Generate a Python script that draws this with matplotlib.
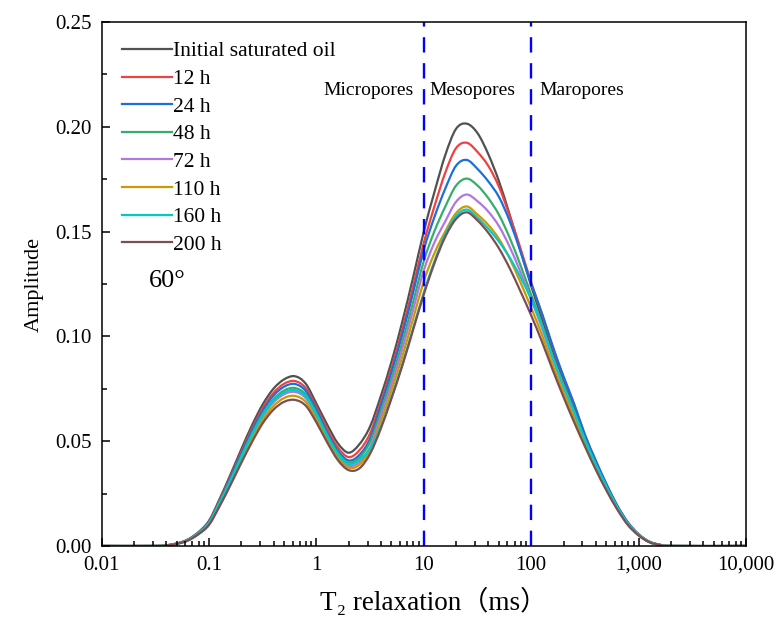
import matplotlib
matplotlib.use('Agg')
import matplotlib.pyplot as plt
import numpy as np
from matplotlib.path import Path
from matplotlib.patches import PathPatch
from matplotlib.ticker import LogLocator, NullFormatter, MultipleLocator

# T2 grid, log10 of ms, read every 0.1 decade from 0.0316 ms to 2000 ms
log_t2 = np.round(np.arange(-1.5, 3.31, 0.1), 1)

sat_oil = [0.0, 0.0003, 0.0012, 0.0030, 0.0065, 0.0120, 0.0225, 0.0340, 0.0460, 0.0575,
           0.0675, 0.0750, 0.0795, 0.0810, 0.0775, 0.0680, 0.0580, 0.0490, 0.0445, 0.0485,
           0.0570, 0.0715, 0.0880, 0.1070, 0.1280, 0.1500, 0.1690, 0.1865, 0.1990, 0.2015,
           0.1970, 0.1870, 0.1740, 0.1580, 0.1410, 0.1240, 0.1085, 0.0930, 0.0790, 0.0660,
           0.0520, 0.0400, 0.0290, 0.0190, 0.0110, 0.0055, 0.0020, 0.0005, 0.0]
h12 = [0.0, 0.0003, 0.0012, 0.0029, 0.0063, 0.0116, 0.0218, 0.0330, 0.0447, 0.0559,
       0.0657, 0.0730, 0.0774, 0.0787, 0.0754, 0.0662, 0.0559, 0.0470, 0.0424, 0.0456,
       0.0537, 0.0687, 0.0848, 0.1032, 0.1235, 0.1446, 0.1622, 0.1781, 0.1898, 0.1924,
       0.1880, 0.1814, 0.1714, 0.1575, 0.1420, 0.1257, 0.1107, 0.0949, 0.0806, 0.0674,
       0.0529, 0.0407, 0.0295, 0.0193, 0.0112, 0.0056, 0.0020, 0.0005, 0.0]
h24 = [0.0, 0.0003, 0.0011, 0.0028, 0.0062, 0.0113, 0.0213, 0.0324, 0.0439, 0.0549,
       0.0645, 0.0717, 0.0760, 0.0773, 0.0740, 0.0650, 0.0543, 0.0455, 0.0408, 0.0434,
       0.0513, 0.0670, 0.0829, 0.1009, 0.1207, 0.1413, 0.1571, 0.1705, 0.1814, 0.1842,
       0.1799, 0.1740, 0.1665, 0.1550, 0.1405, 0.1252, 0.1110, 0.0954, 0.0810, 0.0678,
       0.0531, 0.0409, 0.0296, 0.0194, 0.0113, 0.0056, 0.0021, 0.0006, 0.0]
h48 = [0.0, 0.0003, 0.0011, 0.0028, 0.0060, 0.0110, 0.0208, 0.0315, 0.0428, 0.0535,
       0.0630, 0.0700, 0.0742, 0.0754, 0.0723, 0.0635, 0.0532, 0.0445, 0.0399, 0.0421,
       0.0497, 0.0642, 0.0798, 0.0971, 0.1162, 0.1359, 0.1503, 0.1619, 0.1719, 0.1753,
       0.1720, 0.1660, 0.1580, 0.1470, 0.1340, 0.1198, 0.1057, 0.0906, 0.0770, 0.0642,
       0.0509, 0.0391, 0.0284, 0.0186, 0.0108, 0.0054, 0.0020, 0.0005, 0.0]
h72 = [0.0, 0.0002, 0.0011, 0.0027, 0.0058, 0.0107, 0.0202, 0.0307, 0.0417, 0.0522,
       0.0616, 0.0684, 0.0724, 0.0735, 0.0706, 0.0621, 0.0516, 0.0430, 0.0383, 0.0399,
       0.0472, 0.0619, 0.0771, 0.0940, 0.1125, 0.1314, 0.1449, 0.1549, 0.1642, 0.1677,
       0.1645, 0.1596, 0.1526, 0.1427, 0.1307, 0.1176, 0.1041, 0.0892, 0.0758, 0.0632,
       0.0502, 0.0386, 0.0280, 0.0184, 0.0106, 0.0053, 0.0019, 0.0005, 0.0]
h110 = [0.0, 0.0002, 0.0010, 0.0026, 0.0057, 0.0103, 0.0196, 0.0299, 0.0406, 0.0509,
        0.0600, 0.0667, 0.0706, 0.0716, 0.0688, 0.0605, 0.0508, 0.0422, 0.0374, 0.0387,
        0.0459, 0.0593, 0.0742, 0.0904, 0.1082, 0.1263, 0.1398, 0.1501, 0.1588, 0.1620,
        0.1581, 0.1532, 0.1465, 0.1371, 0.1258, 0.1136, 0.1008, 0.0863, 0.0734, 0.0611,
        0.0488, 0.0375, 0.0272, 0.0179, 0.0103, 0.0052, 0.0019, 0.0005, 0.0]
h160 = [0.0, 0.0002, 0.0011, 0.0027, 0.0059, 0.0108, 0.0205, 0.0311, 0.0422, 0.0529,
        0.0623, 0.0692, 0.0733, 0.0744, 0.0714, 0.0628, 0.0525, 0.0438, 0.0391, 0.0410,
        0.0466, 0.0568, 0.0710, 0.0866, 0.1037, 0.1209, 0.1360, 0.1487, 0.1573, 0.1605,
        0.1566, 0.1514, 0.1452, 0.1376, 0.1283, 0.1177, 0.1052, 0.0901, 0.0766, 0.0639,
        0.0506, 0.0389, 0.0283, 0.0186, 0.0107, 0.0053, 0.0019, 0.0005, 0.0]
h200 = [0.0, 0.0002, 0.0010, 0.0025, 0.0055, 0.0100, 0.0190, 0.0290, 0.0395, 0.0495,
        0.0585, 0.0650, 0.0688, 0.0697, 0.0670, 0.0590, 0.0495, 0.0410, 0.0362, 0.0370,
        0.0440, 0.0560, 0.0705, 0.0860, 0.1030, 0.1200, 0.1350, 0.1475, 0.1560, 0.1592,
        0.1553, 0.1495, 0.1420, 0.1325, 0.1215, 0.1100, 0.0975, 0.0840, 0.0712, 0.0590,
        0.0475, 0.0365, 0.0265, 0.0175, 0.0100, 0.0050, 0.0018, 0.0005, 0.0]

labels = ['Initial saturated oil', '12 h', '24 h', '48 h', '72 h', '110 h', '160 h', '200 h']
series = [sat_oil, h12, h24, h48, h72, h110, h160, h200]
colors = ['#515151', '#F14040', '#1A6FDF', '#37AD6B', '#B177DE', '#CC9900', '#00CBCC', '#7D4E4E']

x_ticks = [0.01, 0.1, 1, 10, 100, 1000, 10000]
x_tick_labels = ['0.01', '0.1', '1', '10', '100', '1,000', '10,000']
y_ticks = [0.0, 0.05, 0.10, 0.15, 0.20, 0.25]
pore_bounds = [10, 100]


def spline_path(lx, y):
    # smooth line through the read points (like Origin's spline connect),
    # bezier control points worked out in log-x space
    p = np.column_stack([lx, y])
    p = np.vstack([p[0], p, p[-1]])
    verts = [p[1]]
    codes = [Path.MOVETO]
    for i in range(1, len(p) - 2):
        c1 = p[i] + (p[i + 1] - p[i - 1]) / 6.0
        c2 = p[i + 1] - (p[i + 2] - p[i]) / 6.0
        verts += [c1, c2, p[i + 1]]
        codes += [Path.CURVE4] * 3
    verts = np.array(verts)
    verts[:, 0] = 10 ** verts[:, 0]
    return Path(verts, codes)


plt.rcParams['font.family'] = ['Liberation Serif', 'DejaVu Serif', 'Noto Sans CJK SC']

fig = plt.figure(figsize=(7.79, 6.17), dpi=100)
ax = fig.add_axes([0.1303, 0.1151, 0.8274, 0.8492])

# curve ends sit on the baseline at 0.01 and 10000 ms
lx = np.concatenate([[-2.0], log_t2, [4.0]])
for lab, vals, col in zip(labels, series, colors):
    yy = np.r_[0.0, vals, 0.0]
    ax.add_patch(PathPatch(spline_path(lx, yy), facecolor='none', edgecolor=col,
                           lw=1.6, capstyle='round', joinstyle='round'))
    ax.plot([], [], color=col, lw=1.6, label=lab)

for b in pore_bounds:
    ax.axvline(b, color='#0000FF', lw=1.7, dashes=(6.5, 4.5))

ax.set_xscale('log')
ax.set_xlim(0.01, 10000)
ax.set_ylim(0, 0.25)
ax.set_xticks(x_ticks, labels=x_tick_labels)
ax.xaxis.set_minor_locator(LogLocator(base=10, subs=np.arange(2, 10) * 1.0, numticks=20))
ax.xaxis.set_minor_formatter(NullFormatter())
ax.set_yticks(y_ticks, labels=['%.2f' % v for v in y_ticks])
ax.yaxis.set_minor_locator(MultipleLocator(0.025))

ax.tick_params(which='both', direction='in', top=False, right=False, labelsize=15, width=1.1)
ax.tick_params(which='major', length=6, pad=7)
ax.tick_params(which='minor', length=3.5)
for s in ax.spines.values():
    s.set_linewidth(1.1)

ax.set_xlabel('T₂ relaxation（ms）', fontsize=19.5)
ax.xaxis.set_label_coords(0.516, -0.079)
ax.set_ylabel('Amplitude', fontsize=16, labelpad=8)

tr = ax.get_xaxis_transform()
ax.text(8, 0.870, 'Micropores', transform=tr, ha='right', va='center', fontsize=14)
ax.text(11.4, 0.870, 'Mesopores', transform=tr, ha='left', va='center', fontsize=14)
ax.text(120, 0.870, 'Maropores', transform=tr, ha='left', va='center', fontsize=14)
ax.text(0.074, 0.505, '60°', transform=ax.transAxes, ha='left', va='center', fontsize=19)

ax.legend(loc='upper left', bbox_to_anchor=(0.032, 0.963), frameon=False, fontsize=15.5,
          handlelength=2.3, handletextpad=0.05, labelspacing=0.35, borderpad=0,
          borderaxespad=0)

fig.savefig('out.png', dpi=100)
